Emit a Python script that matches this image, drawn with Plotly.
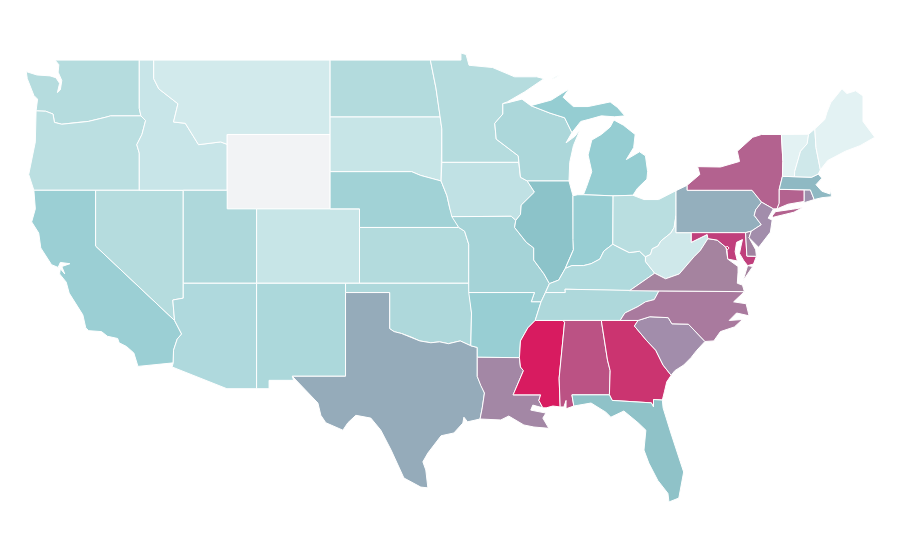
import plotly.graph_objects as go

# State outlines as lon/lat; None splits islands / separate parts
WA=[(-117.03,49),(-122.76,49),(-122.5,48.75),(-122.55,48.35),(-122.3,47.9),(-122.4,47.4),(-122.6,47.25),(-122.45,47.75),(-122.7,48.05),(-123.1,48.15),(-124.0,48.2),(-124.72,48.38),(-124.65,48.0),(-124.2,47.1),(-123.95,46.9),(-124.05,46.27),(-123.4,46.25),(-122.9,46.1),(-122.8,45.65),(-122.3,45.55),(-121.2,45.65),(-120.5,45.7),(-119.3,45.93),(-118.98,46.0),(-116.92,46.0),(-117.03,46.4)]
OR=[(-124.05,46.27),(-123.4,46.25),(-122.9,46.1),(-122.8,45.65),(-122.3,45.55),(-121.2,45.65),(-120.5,45.7),(-119.3,45.93),(-118.98,46.0),(-116.92,46.0),(-116.6,45.75),(-116.85,45.0),(-117.2,44.45),(-117.03,44.0),(-117.03,42),(-124.2,42),(-124.55,42.85),(-124.1,44.6)]
CA=[(-124.2,42),(-120,42),(-120,39),(-114.63,35.0),(-114.15,34.27),(-114.45,34.0),(-114.7,33.4),(-114.72,32.72),(-117.12,32.53),(-117.4,33.25),(-117.9,33.6),(-118.4,33.8),(-118.5,34.03),(-119.2,34.15),(-119.6,34.4),(-120.47,34.45),(-120.67,34.6),(-120.87,35.3),(-121.8,36.47),(-122.0,37.06),(-122.45,37.5),(-122.4,37.78),(-122.1,37.5),(-122.3,37.9),(-121.75,38.05),(-122.4,38.12),(-122.55,37.85),(-123.0,38.0),(-123.73,38.9),(-123.87,39.7),(-124.35,40.3),(-124.1,41.0)]
NV=[(-120,42),(-114.04,42),(-114.04,36.2),(-114.75,36.1),(-114.63,35.0),(-120,39)]
ID=[(-117.03,49),(-116.05,49),(-116.05,48),(-115.7,47.45),(-114.4,46.65),(-114.7,45.67),(-113.9,45.6),(-113.0,44.45),(-111.5,44.6),(-111.05,44.47),(-111.05,42),(-117.03,42),(-117.03,44.0),(-117.2,44.45),(-116.85,45.0),(-116.6,45.75),(-116.92,46.0),(-117.03,46.4)]
MT=[(-116.05,49),(-104.05,49),(-104.05,45),(-111.05,45),(-111.05,44.47),(-111.5,44.6),(-113.0,44.45),(-113.9,45.6),(-114.7,45.67),(-114.4,46.65),(-115.7,47.45),(-116.05,48)]
WY=[(-111.05,45),(-104.05,45),(-104.05,41),(-111.05,41)]
UT=[(-114.04,42),(-111.05,42),(-111.05,41),(-109.05,41),(-109.05,37),(-114.04,37)]
AZ=[(-114.04,37),(-109.05,37),(-109.05,31.33),(-111.07,31.33),(-114.8,32.5),(-114.72,32.72),(-114.7,33.4),(-114.45,34.0),(-114.15,34.27),(-114.63,35.0),(-114.75,36.1),(-114.04,36.2)]
CO=[(-109.05,41),(-102.05,41),(-102.05,37),(-109.05,37)]
NM=[(-109.05,37),(-103,37),(-103,32),(-106.62,32),(-106.53,31.78),(-108.2,31.78),(-108.2,31.33),(-109.05,31.33)]
ND=[(-104.05,49),(-97.23,49),(-96.85,47.5),(-96.56,45.94),(-104.05,45.94)]
SD=[(-104.05,45.94),(-96.56,45.94),(-96.45,45.3),(-96.45,43.5),(-96.5,42.5),(-97.9,42.8),(-98.5,43),(-104.05,43)]
NE=[(-104.05,43),(-98.5,43),(-97.9,42.8),(-96.5,42.5),(-96.1,41.7),(-95.9,41),(-95.3,40),(-102.05,40),(-102.05,41),(-104.05,41)]
KS=[(-102.05,40),(-95.3,40),(-94.9,39.8),(-94.62,39.1),(-94.62,37),(-102.05,37)]
OK=[(-103,37),(-94.62,37),(-94.43,35.4),(-94.48,33.64),(-95.2,33.9),(-96,33.75),(-96.6,33.85),(-97.2,33.8),(-97.95,33.9),(-98.5,34.1),(-99.2,34.3),(-99.7,34.4),(-100,34.56),(-100,36.5),(-103,36.5)]
TX=[(-103,36.5),(-100,36.5),(-100,34.56),(-99.7,34.4),(-99.2,34.3),(-98.5,34.1),(-97.95,33.9),(-97.2,33.8),(-96.6,33.85),(-96,33.75),(-95.2,33.9),(-94.48,33.64),(-94.04,33.55),(-94.04,31.99),(-93.8,31.5),(-93.55,31.1),(-93.7,30.3),(-93.85,29.7),(-94.7,29.55),(-94.95,29.8),(-95.02,29.48),(-95.63,28.95),(-96.5,28.8),(-97.06,28.2),(-97.4,27.87),(-97.74,27.4),(-97.54,26.96),(-97.4,26.0),(-97.88,26.04),(-99.03,26.53),(-99.37,27.1),(-99.9,28.03),(-100.6,29.1),(-101.28,29.75),(-102.3,29.9),(-102.84,29.5),(-103.18,29.1),(-104.34,29.5),(-104.68,29.9),(-104.88,30.56),(-106.38,31.8),(-106.62,32),(-103,32)]
MN=[(-97.23,49),(-95.15,49),(-95.15,49.38),(-94.8,49.3),(-94.6,48.72),(-93.0,48.6),(-91.5,48.1),(-90.0,48.1),(-89.5,48.0),(-90.8,47.3),(-92.0,46.75),(-92.3,46.66),(-92.3,46.1),(-92.85,45.6),(-92.75,44.75),(-91.25,43.85),(-91.22,43.5),(-96.45,43.5),(-96.45,45.3),(-96.56,45.94),(-96.85,47.5)]
IA=[(-96.45,43.5),(-91.22,43.5),(-91.1,42.7),(-90.64,42.5),(-90.15,41.9),(-91.05,41.2),(-91.1,40.7),(-91.42,40.38),(-91.73,40.6),(-95.77,40.58),(-95.9,41),(-96.1,41.7),(-96.5,42.5)]
MO=[(-95.77,40.58),(-91.73,40.6),(-91.42,40.38),(-91.5,40.0),(-90.7,39.2),(-90.2,38.9),(-90.2,38.25),(-89.5,37.5),(-89.13,36.98),(-89.4,36.5),(-89.7,36.0),(-90.37,36.0),(-90.15,36.5),(-94.62,36.5),(-94.62,39.1),(-94.9,39.8),(-95.3,40)]
AR=[(-94.62,36.5),(-90.15,36.5),(-90.37,36.0),(-89.7,36.0),(-90.1,35.0),(-90.6,34.6),(-91.1,33.9),(-91.17,33.0),(-94.04,33.02),(-94.04,33.55),(-94.48,33.64),(-94.43,35.4)]
LA=[(-94.04,33.02),(-91.17,33.0),(-91.1,32.5),(-90.9,32.3),(-91.6,31.0),(-89.73,31.0),(-89.85,30.7),(-89.58,30.3),(-90.26,30.45),(-90.4,30.18),(-89.37,30.02),(-89.58,29.75),(-89.17,29.2),(-90.19,29.27),(-90.87,29.38),(-91.9,29.86),(-92.44,29.65),(-93.85,29.7),(-93.7,30.3),(-93.55,31.1),(-93.8,31.5),(-94.04,31.99)]
WI=[(-92.3,46.66),(-92.0,46.7),(-91.0,46.9),(-90.4,46.55),(-89.1,46.15),(-88.1,45.9),(-87.6,45.1),(-88.0,44.55),(-87.4,44.9),(-87.05,45.25),(-87.5,44.4),(-87.75,43.5),(-87.8,42.5),(-90.64,42.5),(-91.1,42.7),(-91.22,43.5),(-91.25,43.85),(-92.75,44.75),(-92.85,45.6),(-92.3,46.1)]
IL=[(-90.64,42.5),(-87.8,42.5),(-87.53,41.71),(-87.53,39.35),(-87.5,38.8),(-87.95,38.0),(-88.05,37.8),(-88.5,37.17),(-89.13,36.98),(-89.5,37.5),(-90.2,38.25),(-90.2,38.9),(-90.7,39.2),(-91.5,40.0),(-91.42,40.38),(-91.1,40.7),(-91.05,41.2),(-90.15,41.9)]
MS=[(-90.1,35),(-88.2,35),(-88.1,34.9),(-88.47,31.9),(-88.4,30.35),(-88.9,30.4),(-89.35,30.3),(-89.58,30.3),(-89.85,30.7),(-89.73,31),(-91.6,31),(-90.9,32.3),(-91.1,32.5),(-91.17,33),(-91.1,33.9),(-90.6,34.6)]
MI=[(-86.82,41.76),(-84.8,41.7),(-83.45,41.73),(-83.15,42.1),(-82.5,42.6),(-82.45,43.0),(-82.6,43.85),(-83.0,44.07),(-83.9,43.65),(-83.4,44.3),(-83.3,45.0),(-84.1,45.5),(-84.75,45.78),(-85.0,45.4),(-85.6,45.0),(-86.25,44.7),(-86.5,43.9),(-86.25,43.0),(-86.6,42.2),None,
    (-90.4,46.55),(-89.0,46.85),(-88.3,47.2),(-87.8,47.45),(-88.2,47.0),(-87.5,46.5),(-86.5,46.5),(-85.0,46.75),(-84.5,46.45),(-84.0,46.0),(-84.7,45.95),(-85.6,46.0),(-86.5,45.8),(-87.0,45.7),(-87.6,45.1),(-88.1,45.9),(-89.1,46.15),None,
    (-88.95,47.95),(-88.4,48.2),(-88.75,48.1)]
IN=[(-87.53,41.71),(-87.2,41.76),(-86.82,41.76),(-84.8,41.7),(-84.82,39.1),(-85.43,38.73),(-85.7,38.3),(-86.3,38.05),(-86.8,37.95),(-87.6,37.95),(-88.05,37.8),(-87.95,38.0),(-87.5,38.8),(-87.53,39.35)]
KY=[(-89.4,36.5),(-89.13,36.98),(-88.5,37.17),(-88.05,37.8),(-87.6,37.95),(-86.8,37.95),(-86.3,38.05),(-85.7,38.3),(-85.43,38.73),(-84.82,39.1),(-84.23,38.85),(-83.7,38.65),(-83.0,38.72),(-82.6,38.42),(-82.6,38.17),(-81.97,37.54),(-83.68,36.6),(-88.07,36.68),(-88.05,36.5)]
TN=[(-90.1,35),(-89.7,36.0),(-89.4,36.5),(-88.05,36.5),(-88.07,36.68),(-83.68,36.6),(-81.68,36.59),(-82.0,36.12),(-82.6,36.0),(-83.1,35.75),(-84.0,35.4),(-84.32,35)]
AL=[(-88.2,35),(-85.6,35),(-85.18,32.87),(-85.0,32.3),(-85.05,31.0),(-87.6,31.0),(-87.47,30.4),(-88.0,30.25),(-88.0,30.7),(-88.15,30.35),(-88.4,30.35),(-88.47,31.9),(-88.1,34.9)]
OH=[(-84.8,41.7),(-83.45,41.73),(-82.7,41.5),(-81.7,41.5),(-80.52,41.98),(-80.52,40.64),(-80.65,40),(-80.87,39.7),(-81.55,39.27),(-81.75,39.0),(-82.14,38.85),(-82.25,38.55),(-82.6,38.42),(-83.0,38.72),(-83.7,38.65),(-84.23,38.85),(-84.82,39.1)]
WV=[(-80.52,40.64),(-80.52,39.72),(-79.48,39.72),(-79.48,39.2),(-78.4,39.62),(-77.72,39.32),(-78.35,39.4),(-78.87,38.76),(-79.3,38.42),(-80.3,37.5),(-81.23,37.24),(-81.97,37.54),(-82.6,38.17),(-82.6,38.42),(-82.25,38.55),(-82.14,38.85),(-81.75,39.0),(-81.55,39.27),(-80.87,39.7),(-80.65,40)]
GA=[(-85.6,35),(-83.1,35),(-83.35,34.7),(-82.5,33.9),(-81.9,33.4),(-81.4,32.6),(-80.85,32.05),(-81.15,31.7),(-81.3,31.2),(-81.45,30.72),(-82.05,30.75),(-82.05,30.35),(-82.2,30.57),(-84.86,30.7),(-85.05,31),(-85,32.3),(-85.18,32.87)]
FL=[(-87.6,31),(-85.05,31),(-84.86,30.7),(-82.2,30.57),(-82.05,30.35),(-82.05,30.75),(-81.45,30.72),(-81.4,30.3),(-80.87,28.95),(-80.4,27.87),(-80.0,26.85),(-80.33,25.45),(-81.0,25.24),(-81.07,25.7),(-81.76,26.4),(-82.37,27.33),(-82.7,28.03),(-82.57,29.1),(-83.1,29.5),(-84.07,30.13),(-84.95,29.8),(-85.3,30.07),(-86.3,30.56),(-87.47,30.4)]
SC=[(-83.1,35),(-82.3,35.2),(-81.05,35.15),(-80.8,34.82),(-79.68,34.8),(-78.55,33.87),(-79.1,33.4),(-79.5,33.0),(-80.0,32.6),(-80.6,32.3),(-80.85,32.05),(-81.4,32.6),(-81.9,33.4),(-82.5,33.9),(-83.35,34.7)]
NC=[(-84.32,35),(-83.1,35),(-82.3,35.2),(-81.05,35.15),(-80.8,34.82),(-79.68,34.8),(-78.55,33.87),(-77.95,33.9),(-77.5,34.4),(-76.55,34.65),(-76.0,35.05),(-76.9,35.0),(-76.4,35.4),(-75.55,35.25),(-75.75,35.9),(-76.6,36.0),(-75.87,36.55),(-81.68,36.59),(-82.0,36.12),(-82.6,36.0),(-83.1,35.75),(-84.0,35.4)]
VA=[(-83.68,36.6),(-81.68,36.59),(-75.87,36.55),(-76.0,36.9),(-76.35,37.0),(-76.3,37.6),(-76.3,37.9),(-77.0,38.3),(-77.05,38.75),(-77.12,38.93),(-77.72,39.32),(-78.35,39.4),(-78.87,38.76),(-79.3,38.42),(-80.3,37.5),(-81.23,37.24),(-81.97,37.54),None,
    (-75.95,37.15),(-75.3,37.9),(-75.65,37.95)]
PA=[(-80.52,41.98),(-79.76,42.27),(-79.76,42.0),(-75.35,42.0),(-74.7,41.36),(-75.1,40.95),(-75.2,40.65),(-74.72,40.15),(-75.4,39.8),(-75.79,39.72),(-80.52,39.72)]
NY=[(-79.76,42.0),(-79.76,42.27),(-78.9,42.85),(-79.05,43.27),(-77.5,43.25),(-76.2,43.55),(-76.35,44.1),(-75.3,44.85),(-74.7,45.0),(-73.35,45.0),(-73.25,43.55),(-73.28,42.75),(-73.5,42.05),(-73.5,41.3),(-73.65,41.0),(-73.9,41.0),(-74.7,41.36),(-75.35,42.0),None,
    (-74.0,40.6),(-73.75,40.85),(-72.6,40.98),(-71.9,41.07),(-72.5,40.82),(-73.9,40.55)]
MD=[(-79.48,39.72),(-75.79,39.72),(-75.7,38.46),(-75.05,38.45),(-75.25,38.03),(-75.65,37.95),(-75.9,38.2),(-76.2,38.6),(-76.1,39.0),(-76.0,39.35),(-76.4,39.2),(-76.5,38.7),(-76.35,38.2),(-77.0,38.3),(-77.05,38.75),(-77.12,38.93),(-77.72,39.32),(-78.35,39.4),(-78.4,39.62),(-79.48,39.2)]
DE=[(-75.79,39.72),(-75.4,39.8),(-75.55,39.45),(-75.1,38.8),(-75.05,38.45),(-75.7,38.46)]
NJ=[(-74.7,41.36),(-73.9,41.0),(-74.25,40.5),(-73.98,40.4),(-74.1,39.75),(-74.9,38.93),(-75.55,39.45),(-75.4,39.8),(-74.72,40.15),(-75.2,40.65),(-75.1,40.95)]
CT=[(-73.5,42.05),(-71.8,42.02),(-71.8,41.4),(-72.9,41.25),(-73.65,41.0),(-73.5,41.3)]
RI=[(-71.8,42.02),(-71.38,42.02),(-71.12,41.5),(-71.85,41.32),(-71.8,41.4)]
MA=[(-73.5,42.05),(-73.28,42.75),(-71.3,42.7),(-70.85,42.87),(-70.6,42.65),(-71.0,42.3),(-70.6,41.95),(-70.05,41.8),(-70.0,42.05),(-69.95,41.65),(-70.6,41.6),(-71.12,41.5),(-71.38,42.02),(-71.8,42.02)]
VT=[(-73.35,45),(-71.5,45.01),(-71.6,44.5),(-72.05,44.1),(-72.45,43.0),(-72.46,42.73),(-73.28,42.75),(-73.25,43.55)]
NH=[(-71.5,45.01),(-71.08,45.3),(-71.0,44.3),(-70.7,43.1),(-70.85,42.87),(-71.3,42.7),(-72.46,42.73),(-72.45,43),(-72.05,44.1),(-71.6,44.5)]
ME=[(-71.08,45.3),(-70.4,45.8),(-70.25,46.2),(-70.0,46.7),(-69.23,47.46),(-68.9,47.2),(-68.3,47.35),(-67.8,47.07),(-67.8,45.7),(-67.45,45.3),(-67.0,44.85),(-68.0,44.4),(-69.0,44.1),(-70.2,43.6),(-70.7,43.1),(-71,44.3)]
DC=[(-77.12,38.93),(-77.04,39.0),(-76.91,38.89),(-77.04,38.79)]

state_names=["WA","OR","CA","NV","ID","MT","WY","UT","AZ","CO","NM","ND","SD","NE","KS","OK","TX","MN","IA","MO","AR","LA","WI","IL","MS","MI","IN","KY","TN","AL","OH","WV","GA","FL","SC","NC","VA","PA","NY","MD","DE","NJ","CT","RI","MA","VT","NH","ME","DC"]
state_shapes=[WA,OR,CA,NV,ID,MT,WY,UT,AZ,CO,NM,ND,SD,NE,KS,OK,TX,MN,IA,MO,AR,LA,WI,IL,MS,MI,IN,KY,TN,AL,OH,WV,GA,FL,SC,NC,VA,PA,NY,MD,DE,NJ,CT,RI,MA,VT,NH,ME,DC]
state_colors=["#b5dcde","#bbdfe1","#9bcfd4","#b5dcde","#c8e5e8","#d2eaec","#f2f3f5","#aed8db","#afd9dd","#c7e5e7","#acd8db","#b3dbdd","#c7e5e7","#a1d2d6","#b3dbdd","#aed8db","#95abba","#b5dcde","#c0e1e4","#a5d3d7","#98ced3","#a387a5","#acd7da","#8cc3c9","#d81b60","#95cdd2","#98ced3","#b0dadd","#aed8db","#bb5284","#b9dee0","#cfe8ea","#cb3470","#8fc2c8","#a28dab","#a97a9e","#a5839f","#94afbd","#b3628f","#c03f7c","#a0829f","#a28dab","#b3628f","#9d92ad","#8fb9c3","#e3f2f3","#cfe8ea","#e3f2f3","#d81b60"]

fig=go.Figure()
for name,shape,color in zip(state_names,state_shapes,state_colors):
    lon=[];lat=[];start=None
    for p in shape+[None]:
        if p is None:
            lon+=[start[0],None];lat+=[start[1],None];start=None
        else:
            if start is None:start=p
            lon.append(p[0]);lat.append(p[1])
    fig.add_trace(go.Scatter(x=lon,y=lat,mode="lines",fill="toself",fillcolor=color,line=dict(color="white",width=1),name=name,hoverinfo="name"))
fig.update_layout(width=900,height=560,margin=dict(l=0,r=0,t=0,b=0),paper_bgcolor="white",plot_bgcolor="white",showlegend=False,
    xaxis=dict(visible=False,range=[-125.96,-64.74],fixedrange=True),
    yaxis=dict(visible=False,range=[21.69,51.80],fixedrange=True))
fig.write_html("out.html")
